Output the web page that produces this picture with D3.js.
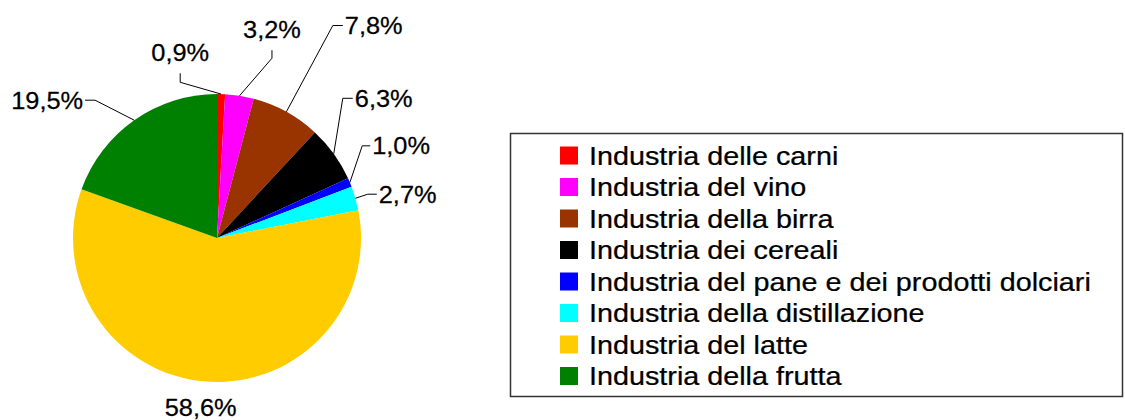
<!DOCTYPE html>
<html>
<head>
<meta charset="utf-8">
<script src="https://cdn.jsdelivr.net/npm/d3@7"></script>
<style>
  body { margin: 0; background: #fff; }
  text { font-family: "Liberation Sans", Arial, sans-serif; fill: #000; stroke: #000; stroke-width: 0.25px; }
</style>
</head>
<body>
<div id="chart"></div>
<script>
// data
var categories = [
    "Industria delle carni",
    "Industria del vino",
    "Industria della birra",
    "Industria dei cereali",
    "Industria del pane e dei prodotti dolciari",
    "Industria della distillazione",
    "Industria del latte",
    "Industria della frutta"
];
var shares = [0.9, 3.2, 7.8, 6.3, 1.0, 2.7, 58.6, 19.5];
var colors = ["#FF0000", "#FF00FF", "#993300", "#000000", "#0000FF", "#00FFFF", "#FFCC00", "#008000"];

// label layout: elbow of the leader line in polar form (deg from top, px) and stub direction
var labelLayout = [
    { ang: -13.3, rad: 160, stub: "up", len: 9 },
    { ang: 17, rad: 188, stub: "up", len: 8 },
    { ang: 28.6, rad: 242, stub: "right", len: 10 },
    { ang: 42, rad: 188, stub: "right", len: 10 },
    { ang: 57.6, rad: 172, stub: "right", len: 8 },
    { ang: 73.8, rad: 157, stub: "right", len: 9 },
    { ang: 185.5, rad: 170, stub: "none", len: 0 },
    { ang: -41.5, rad: 184, stub: "left", len: 10 }
];

var width = 1125, height = 420;
var cx = 217, cy = 238, radius = 144;

var svg = d3.select("#chart")
    .append("svg")
    .attr("width", width)
    .attr("height", height);

svg.append("rect").attr("width", width).attr("height", height).attr("fill", "#fff");

var data = categories.map(function (c, i) {
    return { name: c, value: shares[i], color: colors[i], layout: labelLayout[i] };
});

var pie = d3.pie().sort(null).value(d => d.value);
var arc = d3.arc().innerRadius(0).outerRadius(radius);
var arcs = pie(data);

var g = svg.append("g").attr("transform", "translate(" + cx + "," + cy + ")");

g.selectAll(".slice")
    .data(arcs)
    .enter()
    .append("path")
    .attr("class", "slice")
    .attr("d", arc)
    .attr("fill", d => d.data.color);

function polar(angDeg, r) {
    var a = angDeg * Math.PI / 180;
    return [r * Math.sin(a), -r * Math.cos(a)];
}

var fmt = function (v) { return v.toFixed(1).replace(".", ",") + "%"; };
var labelSize = 23.5, labelScale = 1.08;

arcs.forEach(function (d) {
    var L = d.data.layout;
    var mid = (d.startAngle + d.endAngle) / 2 * 180 / Math.PI;
    var p0 = polar(mid, radius);
    var elbow = polar(L.ang, L.rad);
    var tx, ty, anchor;

    if (L.stub === "none") {
        tx = elbow[0];
        ty = elbow[1] + 8.4;
        anchor = "middle";
    } else {
        var end;
        if (L.stub === "up") end = [elbow[0], elbow[1] - L.len];
        else if (L.stub === "right") end = [elbow[0] + L.len, elbow[1]];
        else end = [elbow[0] - L.len, elbow[1]];

        g.append("polyline")
            .attr("points", [p0, elbow, end].map(p => p.join(",")).join(" "))
            .attr("fill", "none")
            .attr("stroke", "#000")
            .attr("stroke-width", 1);

        if (L.stub === "up") { tx = end[0]; ty = end[1] - 12.5; anchor = "middle"; }
        else if (L.stub === "right") { tx = end[0] + 2; ty = end[1] + 8.5; anchor = "start"; }
        else { tx = end[0] - 2; ty = end[1] + 9; anchor = "end"; }
    }

    g.append("text")
        .attr("transform", "translate(" + tx + "," + ty + ") scale(" + labelScale + ",1)")
        .attr("text-anchor", anchor)
        .style("font-size", labelSize + "px")
        .text(fmt(d.data.value));
});

// legend
var legend = svg.append("g");
legend.append("rect")
    .attr("x", 510.5).attr("y", 133.5)
    .attr("width", 612).attr("height", 263)
    .attr("fill", "#fff")
    .attr("stroke", "#333")
    .attr("stroke-width", 1.5);

var rowY = d3.scalePoint()
    .domain(categories)
    .range([155.5, 376]);

var rows = legend.selectAll(".row")
    .data(data)
    .enter()
    .append("g")
    .attr("class", "row")
    .attr("transform", d => "translate(560," + rowY(d.name) + ")");

rows.append("rect")
    .attr("x", 0).attr("y", -9)
    .attr("width", 18).attr("height", 18)
    .attr("fill", d => d.color);

rows.append("text")
    .attr("transform", "translate(29,9) scale(1.15,1)")
    .style("font-size", "25px")
    .text(d => d.name);
</script>
</body>
</html>
